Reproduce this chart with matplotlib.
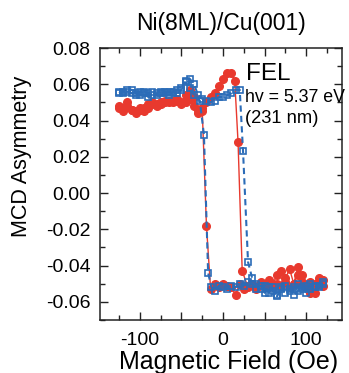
import matplotlib
matplotlib.use("Agg")
import matplotlib.pyplot as plt
from matplotlib.ticker import MultipleLocator, FuncFormatter

plt.rcParams['font.family'] = ['Liberation Sans', 'DejaVu Sans']

# Red (filled circles) hysteresis loop: up sweep then down sweep
red_H = [-125, -120, -115, -110, -105, -100, -95, -90, -85, -80, -75, -70, -65, -60,
         -55, -50, -45, -40, -35, -30, -25, -20, -15, -10, -5, 0, 5, 10, 14, 18, 23,
         30, 35, 40, 45, 50, 55, 60, 65, 70, 75, 80, 85, 90, 95, 100, 105, 110, 115, 120,
         120, 115, 110, 105, 100, 95, 90, 85, 80, 75, 70, 65, 60, 55, 50, 45, 40, 35, 30,
         25, 20, 15, 10, 5, 0, -5, -10, -15, -20, -25, -30, -35, -40, -45, -50, -55,
         -60, -65, -70, -75, -80, -85, -90, -95, -100, -105, -110, -115, -120, -125]
red_A = [0.047, 0.045, 0.050, 0.046, 0.044, 0.046, 0.047, 0.049, 0.050, 0.049, 0.050,
         0.051, 0.050, 0.051, 0.052, 0.050, 0.054, 0.057, 0.053, 0.046, 0.047, 0.050,
         0.053, 0.055, 0.059, 0.063, 0.066, 0.066, 0.062, 0.028, -0.043,
         -0.052, -0.050, -0.053, -0.049, -0.051, -0.048, -0.050, -0.045, -0.043, -0.047,
         -0.042, -0.050, -0.041, -0.045, -0.052, -0.049, -0.055, -0.050, -0.051,
         -0.048, -0.047, -0.050, -0.055, -0.051, -0.049, -0.045, -0.050, -0.052, -0.049,
         -0.051, -0.050, -0.052, -0.049, -0.051, -0.050, -0.052, -0.050, -0.051,
         -0.053, -0.050, -0.056, -0.052, -0.051, -0.050, -0.052, -0.050, -0.053,
         -0.018, 0.045, 0.044, 0.048, 0.052, 0.050, 0.049, 0.051, 0.050, 0.051, 0.050,
         0.049, 0.048, 0.049, 0.047, 0.045, 0.047, 0.045, 0.046, 0.048, 0.047, 0.048]

# Blue (open squares) hysteresis loop
blue_H = [-125, -120, -115, -110, -105, -100, -95, -90, -85, -80, -75, -70, -65, -60,
          -55, -50, -45, -40, -35, -30, -25, -20, -15, -10, -5, 0, 5, 10, 15, 20, 24,
          30, 35, 40, 45, 50, 55, 60, 65, 70, 75, 80, 85, 90, 95, 100, 105, 110, 115, 120,
          120, 115, 110, 105, 100, 95, 90, 85, 80, 75, 70, 65, 60, 55, 50, 45, 40, 35, 30,
          25, 20, 15, 10, 5, 0, -5, -10, -14, -18, -23, -28, -35, -40, -45, -50, -55,
          -60, -65, -70, -75, -80, -85, -90, -95, -100, -105, -110, -115, -120, -125]
blue_A = [0.055, 0.056, 0.057, 0.055, 0.054, 0.056, 0.055, 0.053, 0.054, 0.055, 0.056,
          0.055, 0.056, 0.055, 0.057, 0.058, 0.062, 0.063, 0.060, 0.054, 0.052, 0.051,
          0.050, 0.051, 0.053, 0.053, 0.054, 0.055, 0.057, 0.057, 0.023,
          -0.038, -0.047, -0.050, -0.053, -0.051, -0.055, -0.052, -0.056, -0.053, -0.051,
          -0.054, -0.052, -0.050, -0.053, -0.051, -0.050, -0.052, -0.051, -0.049,
          -0.050, -0.052, -0.051, -0.053, -0.055, -0.052, -0.054, -0.056, -0.053, -0.055,
          -0.052, -0.057, -0.054, -0.052, -0.055, -0.051, -0.053, -0.050, -0.049,
          -0.051, -0.050, -0.052, -0.051, -0.053, -0.052, -0.051, -0.054, -0.052,
          -0.044, 0.032, 0.051, 0.054, 0.058, 0.061, 0.057, 0.055, 0.056, 0.054, 0.056,
          0.055, 0.054, 0.056, 0.055, 0.056, 0.054, 0.055, 0.057, 0.056, 0.055, 0.056]

red = '#e8392e'
blue = '#2b6cb8'

fig = plt.figure(figsize=(3.49, 3.73), dpi=100)
ax = fig.add_axes([0.2865, 0.1421, 0.6935, 0.7292])

ax.plot(red_H, red_A, '-', color=red, lw=1.0, marker='o', ms=5.5,
        mfc=red, mec=red, zorder=2)
ax.plot(blue_H, blue_A, '--', color=blue, lw=1.5, dashes=(3, 2), marker='s', ms=4.5,
        mfc='none', mec=blue, mew=1.2, zorder=3)

ax.set_xlim(-148, 143)
ax.set_ylim(-0.07, 0.08)

ax.xaxis.set_major_locator(MultipleLocator(50))
ax.xaxis.set_minor_locator(MultipleLocator(25))
ax.xaxis.set_major_formatter(FuncFormatter(lambda v, p: f"{int(round(v))}" if abs(round(v)) % 100 == 0 else ""))
ax.yaxis.set_major_locator(MultipleLocator(0.02))
ax.yaxis.set_minor_locator(MultipleLocator(0.01))
ax.yaxis.set_major_formatter(FuncFormatter(lambda v, p: f"{v:.2f}" if abs(v) > 1e-9 else "0.00"))

ax.tick_params(which='both', direction='in', top=True, right=True, width=1.0,
               labelsize=14, color='#222222')
ax.tick_params(which='major', length=6, pad=7)
ax.tick_params(which='minor', length=3.5)
ax.tick_params(axis='x', which='major', pad=9)
for s in ax.spines.values():
    s.set_linewidth(1.1)
    s.set_color('#222222')

ax.set_title('Ni(8ML)/Cu(001)', fontsize=16.5, pad=13)
ax.set_ylabel('MCD Asymmetry', fontsize=15.5)
ax.yaxis.set_label_coords(-0.28, 0.60)
ax.set_xlabel('Magnetic Field (Oe)', fontsize=18)
ax.xaxis.set_label_coords(0.531, -0.11)

ax.text(0.603, 0.882, 'FEL', transform=ax.transAxes, fontsize=17.5, clip_on=False)
ax.text(0.600, 0.801, 'hv = 5.37 eV', transform=ax.transAxes, fontsize=12.8, clip_on=False)
ax.text(0.600, 0.724, '(231 nm)', transform=ax.transAxes, fontsize=13.2, clip_on=False)

fig.savefig('out.png', dpi=100)
